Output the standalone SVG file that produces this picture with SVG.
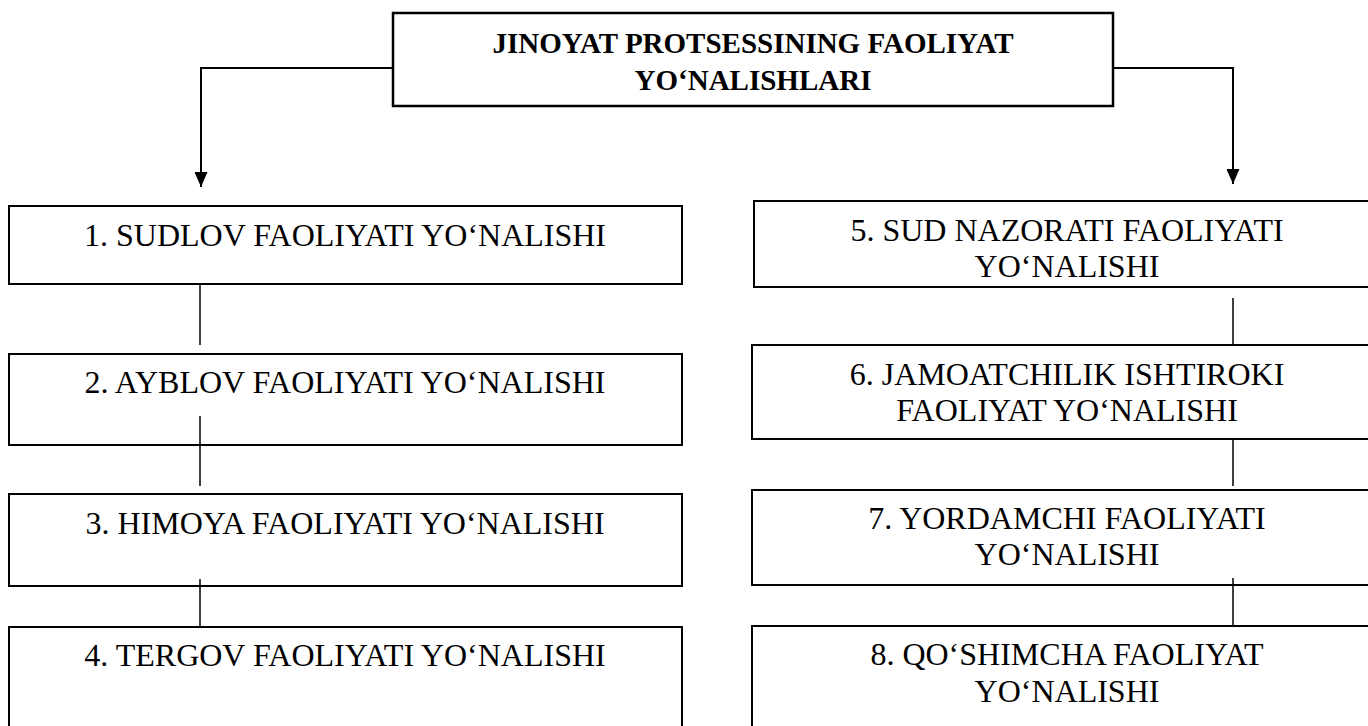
<svg xmlns="http://www.w3.org/2000/svg" width="1368" height="726" viewBox="0 0 1368 726">
<style>
.box{fill:#fff;stroke:#000;stroke-width:2}
.t{font-family:"Liberation Serif","Times New Roman",serif;font-size:32px;fill:#000;text-anchor:middle}
.tb{font-family:"Liberation Serif","Times New Roman",serif;font-size:29px;font-weight:bold;fill:#000;text-anchor:middle}
.c{fill:none;stroke:#000;stroke-width:1.5}
.a{fill:none;stroke:#000;stroke-width:2}
</style>
<defs>
<marker id="arr" markerWidth="15" markerHeight="13" refX="15" refY="6.5" orient="auto" markerUnits="userSpaceOnUse" viewBox="0 0 15 13">
<path d="M0,0 L15,6.5 L0,13 Z" fill="#000"/>
</marker>
</defs>
<rect width="1368" height="726" fill="#fff"/>
<g id="root">
<rect class="box" x="393" y="13" width="720" height="93" style="stroke-width:2.5"/>
<text class="tb" x="753" y="53">JINOYAT PROTSESSINING FAOLIYAT</text>
<text class="tb" x="753" y="90">YO‘NALISHLARI</text>
</g>
<g id="n1">
<rect class="box" x="9" y="206" width="673" height="78"/>
<text class="t" x="345" y="246">1. SUDLOV FAOLIYATI YO‘NALISHI</text>
</g>
<g id="n2">
<rect class="box" x="9" y="354" width="673" height="91"/>
<text class="t" x="345" y="393">2. AYBLOV FAOLIYATI YO‘NALISHI</text>
</g>
<g id="n3">
<rect class="box" x="9" y="494" width="673" height="92"/>
<text class="t" x="345" y="534">3. HIMOYA FAOLIYATI YO‘NALISHI</text>
</g>
<g id="n4">
<rect class="box" x="9" y="627" width="673" height="120"/>
<text class="t" x="345" y="666">4. TERGOV FAOLIYATI YO‘NALISHI</text>
</g>
<g id="n5">
<rect class="box" x="754" y="201" width="700" height="86"/>
<text class="t" x="1067" y="241">5. SUD NAZORATI FAOLIYATI</text>
<text class="t" x="1067" y="277">YO‘NALISHI</text>
</g>
<g id="n6">
<rect class="box" x="752" y="345" width="700" height="94"/>
<text class="t" x="1067" y="385">6. JAMOATCHILIK ISHTIROKI</text>
<text class="t" x="1067" y="421">FAOLIYAT YO‘NALISHI</text>
</g>
<g id="n7">
<rect class="box" x="752" y="490" width="700" height="95"/>
<text class="t" x="1067" y="529">7. YORDAMCHI FAOLIYATI</text>
<text class="t" x="1067" y="565">YO‘NALISHI</text>
</g>
<g id="n8">
<rect class="box" x="752" y="626" width="700" height="120"/>
<text class="t" x="1067" y="665">8. QO‘SHIMCHA FAOLIYAT</text>
<text class="t" x="1067" y="702">YO‘NALISHI</text>
</g>
<g id="connectors">
<path class="a" d="M393,68 H201 V187" marker-end="url(#arr)"/>
<path class="a" d="M1113,68 H1233 V184" marker-end="url(#arr)"/>
<line class="c" x1="200" y1="284" x2="200" y2="345"/>
<line class="c" x1="200" y1="416" x2="200" y2="486"/>
<line class="c" x1="200" y1="579" x2="200" y2="627"/>
<line class="c" x1="1233" y1="298" x2="1233" y2="345"/>
<line class="c" x1="1233" y1="439" x2="1233" y2="486"/>
<line class="c" x1="1233" y1="578" x2="1233" y2="626"/>
</g>
</svg>
